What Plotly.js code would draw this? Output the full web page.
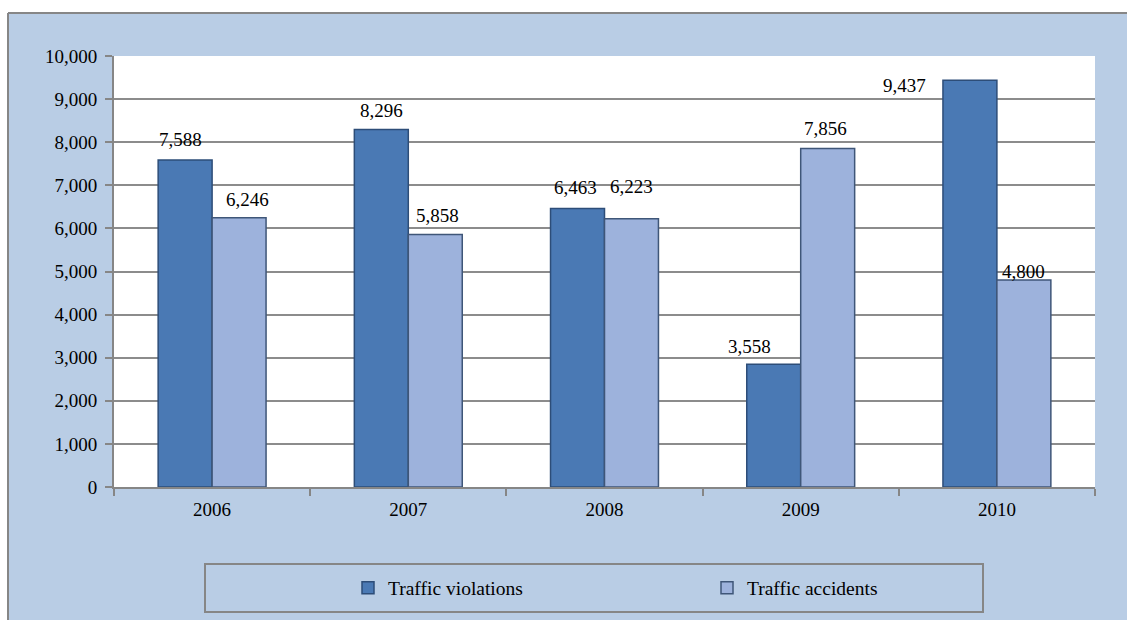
<!DOCTYPE html>
<html>
<head>
<meta charset="utf-8">
<script src="https://cdn.plot.ly/plotly-3.0.1.min.js"></script>
<style>
  html, body { margin: 0; padding: 0; background: #ffffff; }
  #chart { width: 1127px; height: 620px; }
</style>
</head>
<body>
<div id="chart"></div>
<script>
const years = ['2006', '2007', '2008', '2009', '2010'];
// values as printed on the data labels
const violations = [7588, 8296, 6463, 3558, 9437];
const accidents = [6246, 5858, 6223, 7856, 4800];
// bar heights as drawn in the picture (the 2009 violations bar is drawn shorter than its label)
const violationsDrawn = [7588, 8296, 6463, 2850, 9437];
const accidentsDrawn = [6246, 5858, 6223, 7856, 4800];
const seriesNames = ['Traffic violations', 'Traffic accidents'];
const yTickVals = [0, 1000, 2000, 3000, 4000, 5000, 6000, 7000, 8000, 9000, 10000];

const W = 1127, H = 620;
const L = 114, R = 1095, T = 56, B = 487;
const px = x => (x - L) / (R - L);
const py = y => (B - y) / (B - T);

const fmt = v => v.toLocaleString('en-US');
const serif = 'Liberation Serif, Times New Roman, serif';
const FS = 19;

// label placement nudges (pixels): [dx, dy above bar top to label centre]
const labelNudge = [
  [[-5, 20], [0, 19], [-2, 21], [-24, 18], [-65, -5]],
  [[8, 18], [2, 19], [0, 32], [-2, 20], [0, 9]]
];
const barHalf = 27;

const drawn = [violationsDrawn, accidentsDrawn];
const printed = [violations, accidents];
const annotations = [];
for (let s = 0; s < 2; s++) {
  years.forEach((yr, i) => {
    const n = labelNudge[s][i];
    annotations.push({
      x: i, y: drawn[s][i], xref: 'x', yref: 'y',
      text: fmt(printed[s][i]), showarrow: false,
      xanchor: 'center', yanchor: 'middle',
      xshift: (s === 0 ? -barHalf : barHalf) + n[0], yshift: n[1],
      font: { family: serif, size: FS, color: '#000000' }
    });
  });
}

const traces = [
  {
    type: 'bar', name: seriesNames[0], x: years, y: violationsDrawn,
    marker: { color: '#4a79b4', line: { color: '#2d4d78', width: 1.5 } },
    hovertext: violations.map(fmt), hoverinfo: 'x+text'
  },
  {
    type: 'bar', name: seriesNames[1], x: years, y: accidentsDrawn,
    marker: { color: '#9db2dc', line: { color: '#3f5678', width: 1.5 } },
    hovertext: accidents.map(fmt), hoverinfo: 'x+text'
  }
];

const layout = {
  width: W, height: H,
  margin: { l: L, r: W - R, t: T, b: H - B, pad: 0 },
  paper_bgcolor: '#b9cde5',
  plot_bgcolor: '#ffffff',
  font: { family: serif, size: FS, color: '#000000' },
  barmode: 'group',
  bargap: 0.45,
  bargroupgap: 0,
  showlegend: true,
  annotations: annotations,
  xaxis: {
    type: 'category',
    categoryorder: 'array', categoryarray: years,
    range: [-0.5, years.length - 0.5],
    showgrid: false,
    showline: true, linecolor: '#868686', linewidth: 2,
    ticks: 'outside', tickson: 'boundaries', ticklen: 7, tickwidth: 2, tickcolor: '#868686',
    ticklabelstandoff: 4,
    tickfont: { family: serif, size: FS, color: '#000000' },
    fixedrange: true
  },
  yaxis: {
    range: [0, 10000],
    tickvals: yTickVals,
    ticktext: yTickVals.map(fmt),
    showgrid: true, gridcolor: '#8c8c8c', gridwidth: 1.5,
    showline: true, linecolor: '#868686', linewidth: 2,
    ticks: 'outside', ticklen: 7, tickwidth: 2, tickcolor: '#868686',
    ticklabelstandoff: 4,
    tickfont: { family: serif, size: FS, color: '#000000' },
    zeroline: false,
    fixedrange: true
  },
  legend: {
    orientation: 'h',
    x: px(348), y: py(588), xanchor: 'left', yanchor: 'middle',
    bgcolor: 'rgba(0,0,0,0)', borderwidth: 0,
    entrywidth: 314, entrywidthmode: 'pixels',
    font: { family: serif, size: 19.5, color: '#000000' },
    itemclick: false, itemdoubleclick: false
  },
  shapes: [
    { type: 'rect', xref: 'paper', yref: 'paper', layer: 'below',
      x0: px(0), x1: px(W), y0: py(13), y1: py(0),
      fillcolor: '#ffffff', line: { width: 0 } },
    { type: 'rect', xref: 'paper', yref: 'paper', layer: 'below',
      x0: px(0), x1: px(8), y0: py(H), y1: py(0),
      fillcolor: '#ffffff', line: { width: 0 } },
    { type: 'line', xref: 'paper', yref: 'paper',
      x0: px(8), x1: px(W), y0: py(13), y1: py(13),
      line: { color: '#868686', width: 2 } },
    { type: 'line', xref: 'paper', yref: 'paper',
      x0: px(8), x1: px(8), y0: py(13), y1: py(H),
      line: { color: '#868686', width: 2 } },
    { type: 'rect', xref: 'paper', yref: 'paper',
      x0: px(205), x1: px(983), y0: py(612), y1: py(564),
      fillcolor: 'rgba(0,0,0,0)', line: { color: '#868686', width: 2 } }
  ]
};

Plotly.newPlot('chart', traces, layout, { displayModeBar: false });
</script>
</body>
</html>
